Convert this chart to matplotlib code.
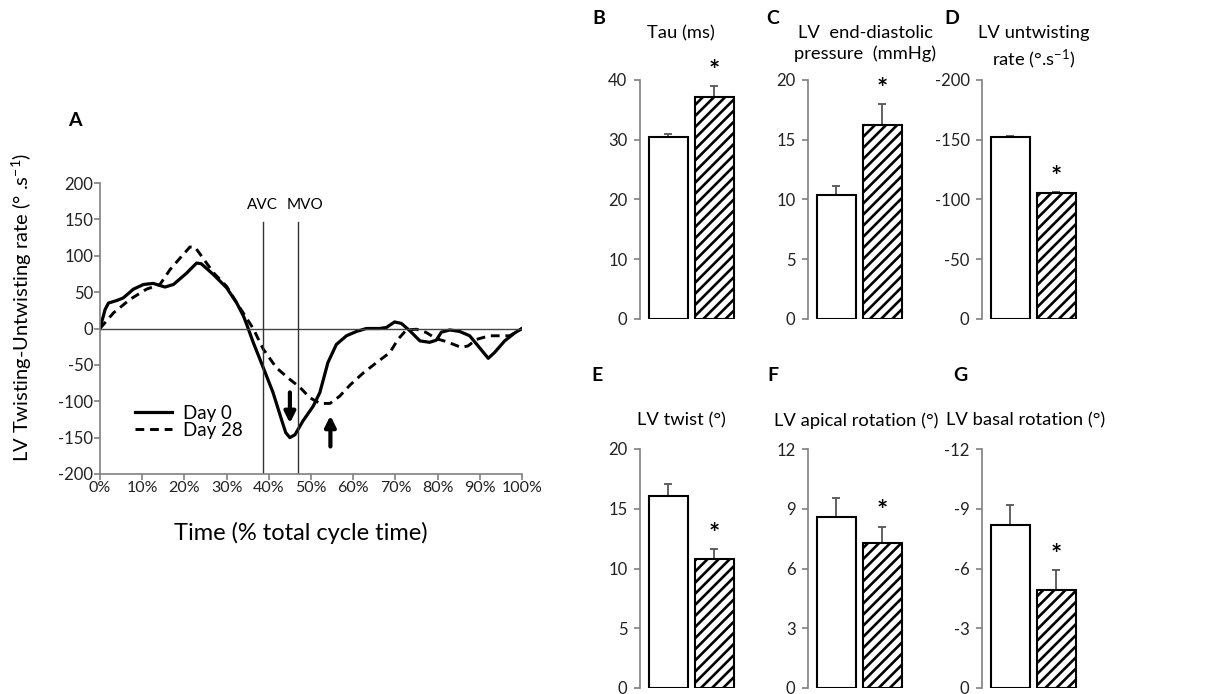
import matplotlib
matplotlib.use('Agg')
import matplotlib.pyplot as plt

plt.rcParams['font.family'] = ['Lato', 'DejaVu Sans']
plt.rcParams['mathtext.fontset'] = 'custom'
plt.rcParams['mathtext.rm'] = 'Lato'
plt.rcParams['mathtext.it'] = 'Lato:italic'
plt.rcParams['axes.unicode_minus'] = False
plt.rcParams['hatch.linewidth'] = 1.9

# Panel A: twisting-untwisting rate over the cycle
day0_x = [0, 1.2, 2, 4, 5.5, 7.9, 10.3, 12.6, 15.4, 17.4, 20.5, 22.9, 24, 26.9, 30, 32.4,
          34, 34.8, 36.3, 38.7, 41, 43, 44, 45, 46.2, 48.1, 50.5, 52.1, 54, 56, 58.4,
          60.8, 63.1, 66.3, 67.9, 69.8, 71.4, 73.4, 75.8, 78.1, 79.7, 80.9, 82.9, 85.2,
          87.6, 89.6, 92, 93.5, 95.9, 98.3, 100]
day0_y = [0, 26, 35, 38.5, 42, 54, 60.5, 62, 57, 60.5, 76, 90, 89, 74, 56, 35,
          17, 5, -19, -54, -88, -125, -143, -150, -146, -127, -107, -88, -47, -22, -10,
          -4, 0, 0, 1.5, 9, 7, -3, -17, -19, -16, -5, -2, -4,
          -10, -24, -41, -33, -17, -6, 0]
day28_x = [0, 3.2, 7.1, 11, 14.2, 16.6, 19, 21.3, 22.5, 24, 26.9, 30, 33.2, 36.3, 38.7,
           41.8, 45, 47.4, 49.7, 52.1, 54.5, 56.8, 59.2, 62.4, 65.5, 68.7, 70.6, 72.6,
           75, 77.3, 79.7, 82.1, 85.6, 87.2, 89.2, 92.3, 97.1, 100]
day28_y = [0, 21.5, 40, 54, 60.5, 81, 97, 112, 112, 100, 76.6, 58, 28, 0, -28.5,
           -54, -70, -81, -95, -103, -103, -93, -78, -61, -47, -33, -15, -2,
           -1, -5.5, -14, -18, -26, -24, -15, -10, -10, 0]
avc, mvo = 38.7, 47.0

# Bar panels
letters = ['B', 'C', 'D', 'E', 'F', 'G']
titles = ['Tau (ms)', 'LV  end-diastolic\npressure  (mmHg)',
          'LV untwisting\nrate (°.s$^{\\mathrm{-1}}$)',
          'LV twist (°)', 'LV apical rotation (°)', 'LV basal rotation (°)']
day0_vals = [30.45, 10.35, -152.3, 16.04, 8.59, -8.17]
day0_errs = [0.5, 0.78, 0.8, 1.03, 0.95, 1.0]
day28_vals = [37.2, 16.23, -105.2, 10.82, 7.26, -4.92]
day28_errs = [1.8, 1.73, 0.8, 0.81, 0.84, 0.99]
y_limits = [(0, 40), (0, 20), (0, -200), (0, 20), (0, 12), (0, -12)]
y_ticks = [[0, 10, 20, 30, 40], [0, 5, 10, 15, 20], [0, -50, -100, -150, -200],
           [0, 5, 10, 15, 20], [0, 3, 6, 9, 12], [0, -3, -6, -9, -12]]

fig = plt.figure(figsize=(12.21, 6.94), dpi=100)
W, H = 1221, 694

def px_axes(x0, y_top, x1, y_bot):
    return fig.add_axes([x0 / W, 1 - y_bot / H, (x1 - x0) / W, (y_bot - y_top) / H])

def px_text(x, y, s, **kw):
    return fig.text(x / W, 1 - y / H, s, **kw)

spine_col = '#808080'

# ---- panel A
ax = px_axes(100, 183, 522, 474)
ax.plot(day0_x, day0_y, color='black', lw=2.3, label='Day 0')
ax.plot(day28_x, day28_y, color='black', lw=2.1, ls=(0, (3, 2)), label='Day 28')
ax.axhline(0, color='#444444', lw=1)
for xv, lab, shift in [(avc, 'AVC', -0.2), (mvo, 'MVO', 1.6)]:
    ax.plot([xv, xv], [-200, 146], color='#333333', lw=1)
    ax.text(xv + shift, 170, lab, ha='center', va='center', fontsize=11)
ax.annotate('', xy=(45, -134), xytext=(45, -84),
            arrowprops=dict(arrowstyle='-|>', lw=3, color='black', mutation_scale=16))
ax.annotate('', xy=(54.6, -116), xytext=(54.6, -166),
            arrowprops=dict(arrowstyle='-|>', lw=3, color='black', mutation_scale=16))
ax.set_xlim(0, 100)
ax.set_ylim(-200, 200)
ax.set_xticks(range(0, 101, 10))
ax.set_xticklabels([f'{v}%' for v in range(0, 101, 10)])
ax.set_yticks(range(-200, 201, 50))
for s in ['top', 'right']:
    ax.spines[s].set_visible(False)
for s in ['left', 'bottom']:
    ax.spines[s].set_color(spine_col)
    ax.spines[s].set_linewidth(1.2)
ax.tick_params(colors=spine_col, labelcolor='#222222', labelsize=12, length=4, width=1.2, pad=1)
ax.tick_params(axis='x', labelsize=11.5)
ax.legend(loc='center left', bbox_to_anchor=(0.06, 0.18), frameon=False, fontsize=13.5,
          handlelength=2.0, labelspacing=0.0, borderpad=0, handletextpad=0.6)
px_text(22, 307, 'LV Twisting-Untwisting rate (° .s$^{\\mathrm{-1}}$)', fontsize=14.5,
        rotation=90, ha='center', va='center')
px_text(301, 533, 'Time (% total cycle time)', fontsize=17, ha='center', va='center')
px_text(75, 120, 'A', fontsize=14, fontweight='bold', ha='center', va='center')

# ---- bar panels
col_x = [640, 808, 982]
row_y = [(80, 319), (449, 688)]
title_x = [681, 865, 1034, 681, 856, 1026]
title_y = [25, 25, 25, 412, 412, 412]
letter_pos = [(599, 18), (773, 18), (952, 18), (597, 375), (773, 375), (960, 375)]
for i in range(6):
    r, c = divmod(i, 3)
    x0 = col_x[c]
    b = px_axes(x0, row_y[r][0], x0 + 102, row_y[r][1])
    b.bar([0], [day0_vals[i]], width=0.85, color='white', edgecolor='black', lw=1.5, zorder=2)
    b.bar([1], [day28_vals[i]], width=0.85, color='white', edgecolor='black', lw=1.5,
          hatch='///', zorder=2)
    inv = day0_vals[i] < 0
    for xp, v, e in [(0, day0_vals[i], day0_errs[i]), (1, day28_vals[i], day28_errs[i])]:
        yerr = [[e], [0]] if inv else [[0], [e]]
        b.errorbar([xp], [v], yerr=yerr, fmt='none', ecolor='#555555', elinewidth=1.3,
                   capsize=3, capthick=1.3, zorder=1)
    top = day28_vals[i] - day28_errs[i] if inv else day28_vals[i] + day28_errs[i]
    b.annotate('*', xy=(1, top), xytext=(0, 11), textcoords='offset points',
               ha='center', va='center', fontsize=19, fontweight='bold',
               annotation_clip=False)
    b.set_xlim(-0.62, 1.6)
    b.set_ylim(*y_limits[i])
    b.set_yticks(y_ticks[i])
    b.set_xticks([])
    for s in ['top', 'right', 'bottom']:
        b.spines[s].set_visible(False)
    b.spines['left'].set_color(spine_col)
    b.spines['left'].set_linewidth(1.2)
    b.tick_params(axis='y', colors=spine_col, labelcolor='#222222', labelsize=12,
                  length=4, width=1.2, pad=5)
    px_text(title_x[i], title_y[i], titles[i], fontsize=13.2, ha='center', va='top',
            linespacing=1.35)
    lx, ly = letter_pos[i]
    px_text(lx, ly, letters[i], fontsize=14, fontweight='bold', ha='center', va='center')

fig.savefig('out.png', dpi=100)
